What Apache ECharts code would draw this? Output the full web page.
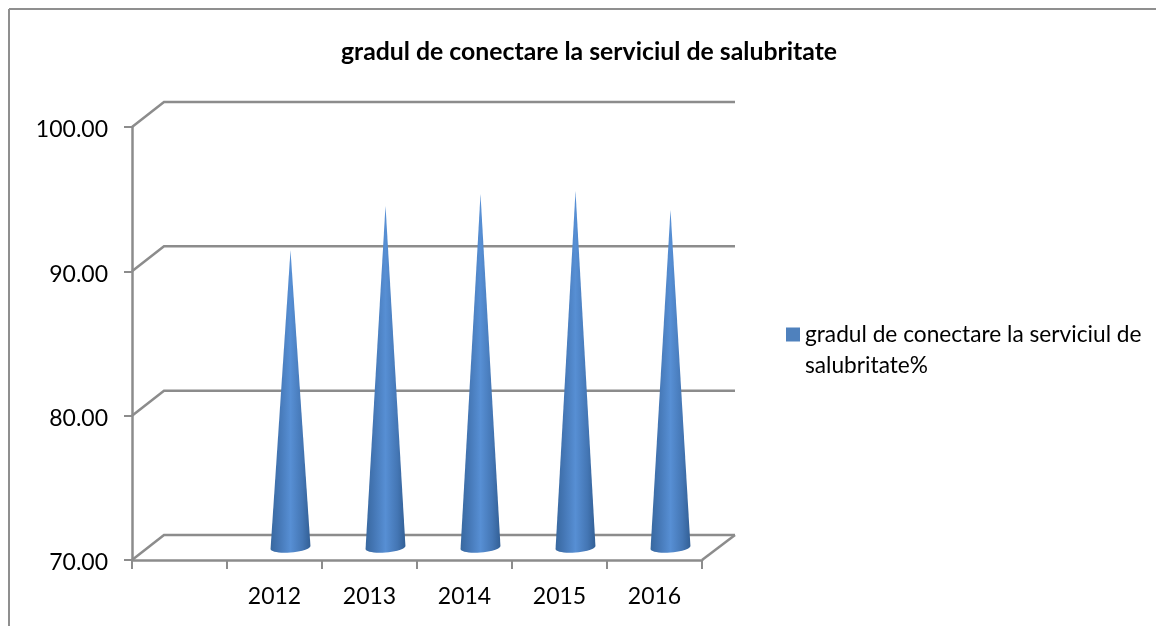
<!DOCTYPE html>
<html>
<head>
<meta charset="utf-8">
<title>gradul de conectare la serviciul de salubritate</title>
<script src="https://cdn.jsdelivr.net/npm/echarts@6/dist/echarts.min.js"></script>
<style>
html, body { margin: 0; padding: 0; background: #fff; }
#chart { width: 1156px; height: 626px; }
</style>
</head>
<body>
<div id="chart"></div>
<script>
var titleText = 'gradul de conectare la serviciul de salubritate';
var seriesName = 'gradul de conectare la serviciul de salubritate%';
// first band of the axis stays empty in the original
var years = ['', '2012', '2013', '2014', '2015', '2016'];
var values = [null, 90.6, 93.7, 94.5, 94.7, 93.4];
var yTicks = [70, 80, 90, 100];

var lineColor = '#8c8c8c';
var fontName = 'Lato, Carlito, sans-serif';
// depth of the fake 3d box, in pixels
var depthX = 32, depthY = -25;

var myChart = echarts.init(document.getElementById('chart'), null, {renderer: 'canvas'});

// back wall lines + floor side
function renderWall(params, api) {
    var cs = params.coordSys;
    var v = api.value(1);
    var p = api.coord([0, v]);
    var x0 = cs.x, x1 = cs.x + cs.width;
    var children = [{
        type: 'polyline',
        shape: {points: [[x0, p[1]], [x0 + depthX, p[1] + depthY], [x1 + depthX + 1, p[1] + depthY]]},
        style: {stroke: lineColor, lineWidth: 2.5, fill: null}
    }];
    if (v === yTicks[0]) {
        children.push({
            type: 'line',
            shape: {x1: x1, y1: p[1], x2: x1 + depthX + 1, y2: p[1] + depthY},
            style: {stroke: lineColor, lineWidth: 2.5}
        });
    }
    return {type: 'group', children: children};
}

// cone standing in the middle of the box depth
function renderCone(params, api) {
    var idx = api.value(0);
    var top = api.coord([idx, api.value(1)]);
    var base = api.coord([idx, yTicks[0]]);
    var half = api.size([1, 0])[0] * 0.21;
    var ox = depthX / 2, oy = depthY / 2;
    var cx = base[0] + ox, cy = base[1] + oy;
    var pts = [[top[0] + ox, top[1] + oy]];
    for (var i = 0; i <= 20; i++) {
        var a = i / 20 * Math.PI;
        pts.push([cx + half * Math.cos(a), cy + 5 * Math.sin(a) - 1.5 * Math.cos(a)]);
    }
    return {
        type: 'polygon',
        shape: {points: pts},
        style: {
            fill: new echarts.graphic.LinearGradient(0, 0, 1, 0, [
                {offset: 0, color: '#38689f'},
                {offset: 0.2, color: '#4476b4'},
                {offset: 0.5, color: '#578fd4'},
                {offset: 0.8, color: '#4476b4'},
                {offset: 1, color: '#325f95'}
            ])
        }
    };
}

var wallData = [];
for (var i = 0; i < yTicks.length; i++) {
    wallData.push([0, yTicks[i]]);
}
var coneData = [];
for (var i = 1; i < years.length; i++) {
    coneData.push([i, values[i]]);
}

var option = {
    backgroundColor: '#fff',
    animation: false,
    title: {
        text: titleText,
        left: 584,
        top: 35,
        textAlign: 'center',
        textStyle: {fontFamily: fontName, fontSize: 24.8, fontWeight: 'bold', color: '#000'}
    },
    legend: {
        left: 781,
        top: 283,
        orient: 'vertical',
        itemWidth: 14,
        itemHeight: 14,
        icon: 'rect',
        data: [{name: seriesName, itemStyle: {color: '#4f81bd'}}],
        // blank first line keeps the icon level with the first text line
        formatter: function () {
            return ' \ngradul de conectare la serviciul de\nsalubritate%';
        },
        textStyle: {fontFamily: fontName, fontSize: 22.7, lineHeight: 31, color: '#000'}
    },
    grid: {left: 132, right: 454, top: 127, bottom: 66},
    xAxis: {
        type: 'category',
        data: years,
        axisLine: {lineStyle: {color: lineColor, width: 2.5}},
        axisTick: {show: true, length: 9, lineStyle: {color: lineColor, width: 2}},
        axisLabel: {interval: 0, margin: 25, fontFamily: fontName, fontSize: 23, color: '#000'},
        splitLine: {show: false}
    },
    yAxis: {
        type: 'value',
        min: 70,
        max: 100,
        interval: 10,
        axisLine: {show: true, lineStyle: {color: lineColor, width: 2.5}},
        axisTick: {show: true, length: 8, lineStyle: {color: lineColor, width: 2}},
        axisLabel: {
            margin: 24,
            // labels sit a little under their ticks in the original
            verticalAlign: 'top',
            lineHeight: 6,
            fontFamily: fontName,
            fontSize: 23,
            color: '#000',
            formatter: function (v) { return v.toFixed(2); }
        },
        splitLine: {show: false}
    },
    series: [
        {
            name: 'wall',
            type: 'custom',
            coordinateSystem: 'cartesian2d',
            renderItem: renderWall,
            data: wallData,
            clip: false,
            silent: true,
            z: 1
        },
        {
            name: seriesName,
            type: 'custom',
            coordinateSystem: 'cartesian2d',
            renderItem: renderCone,
            data: coneData,
            clip: false,
            itemStyle: {color: '#4f81bd'},
            z: 5
        }
    ],
    graphic: [
        // outer chart frame, cut by the picture on the right and bottom
        {type: 'line', shape: {x1: 9, y1: 9, x2: 1156, y2: 9}, style: {stroke: '#8f8f8f', lineWidth: 2}},
        {type: 'line', shape: {x1: 9, y1: 9, x2: 9, y2: 626}, style: {stroke: '#8f8f8f', lineWidth: 2}}
    ]
};

myChart.setOption(option);
</script>
</body>
</html>
